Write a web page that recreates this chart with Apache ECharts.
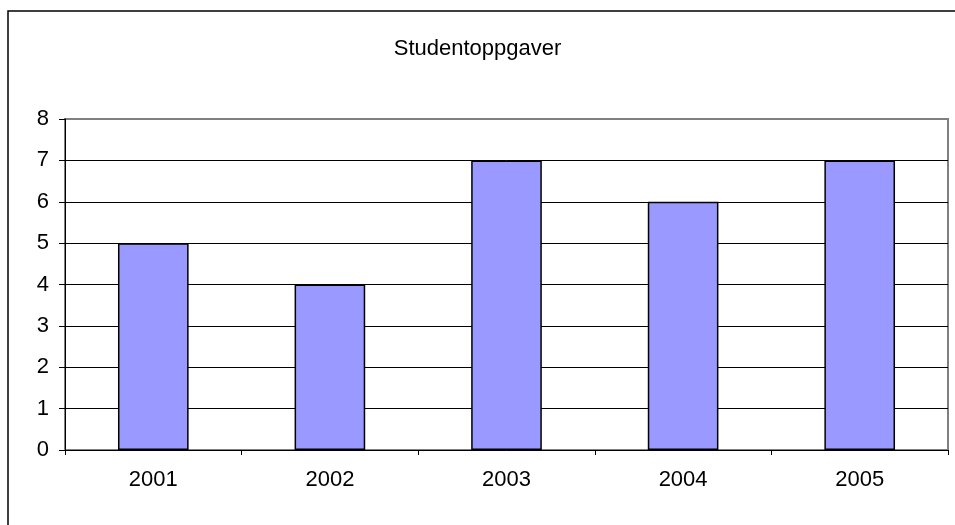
<!DOCTYPE html>
<html>
<head>
<meta charset="utf-8">
<script src="https://cdn.jsdelivr.net/npm/echarts@6/dist/echarts.min.js"></script>
<style>
  html, body { margin: 0; padding: 0; background: #fff; }
  #chart { width: 955px; height: 525px; }
</style>
</head>
<body>
<div id="chart"></div>
<script>
const years = ['2001', '2002', '2003', '2004', '2005'];
const counts = [5, 4, 7, 6, 7];
const yTicks = { min: 0, max: 8, step: 1 };

const chart = echarts.init(document.getElementById('chart'));
const font = 'Liberation Sans, Arial, sans-serif';

chart.setOption({
    animation: false,
    backgroundColor: '#fff',
    title: {
        text: 'Studentoppgaver',
        left: 'center',
        top: 33,
        textStyle: { fontFamily: font, fontSize: 22, fontWeight: 'normal', color: '#000' }
    },
    // outer frame, right and bottom edges fall outside the picture
    graphic: [{
        type: 'rect',
        shape: { x: 8, y: 11, width: 960, height: 530 },
        style: { fill: null, stroke: '#000', lineWidth: 1.5 },
        z: -1
    }],
    grid: {
        left: 65, right: 7, top: 119, bottom: 75,
        show: true,
        borderColor: '#808080',
        borderWidth: 2
    },
    xAxis: {
        type: 'category',
        data: years,
        axisLine: { lineStyle: { color: '#000', width: 1 } },
        axisTick: { show: true, length: 5, lineStyle: { color: '#000' } },
        axisLabel: { margin: 19, fontFamily: font, fontSize: 22, color: '#000' }
    },
    yAxis: {
        type: 'value',
        min: yTicks.min, max: yTicks.max, interval: yTicks.step,
        axisLine: { show: true, lineStyle: { color: '#000', width: 1 } },
        axisTick: { show: true, length: 6, lineStyle: { color: '#000' } },
        axisLabel: { margin: 16, fontFamily: font, fontSize: 22, color: '#000' },
        splitLine: { show: true, showMinLine: false, showMaxLine: false, lineStyle: { color: '#000', width: 1 } }
    },
    series: [{
        type: 'bar',
        data: counts,
        barWidth: '40%',
        itemStyle: { color: '#9999ff', borderColor: '#000', borderWidth: 1.5 }
    }]
});
</script>
</body>
</html>
